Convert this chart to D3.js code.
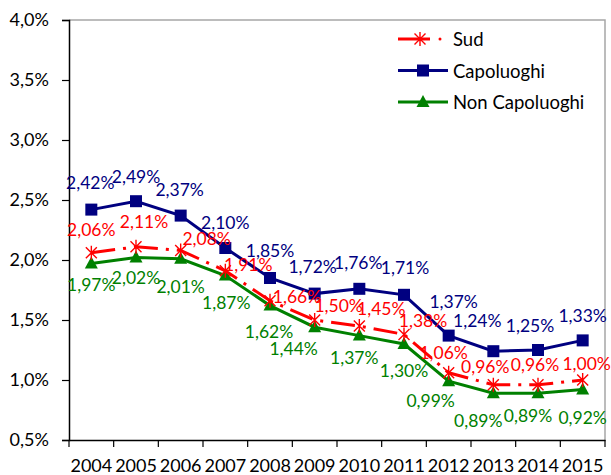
<!doctype html>
<html>
<head>
<meta charset="utf-8">
<script src="https://d3js.org/d3.v7.min.js"></script>
<style>
body { margin: 0; background: #fff; }
svg { font-family: Lato, "Open Sans", sans-serif; }
</style>
</head>
<body>
<svg id="chart" width="611" height="475"></svg>
<script>
// data
var years = ["2004","2005","2006","2007","2008","2009","2010","2011","2012","2013","2014","2015"];
var sud = [2.06, 2.11, 2.08, 1.91, 1.66, 1.50, 1.45, 1.38, 1.06, 0.96, 0.96, 1.00];
var capoluoghi = [2.42, 2.49, 2.37, 2.10, 1.85, 1.72, 1.76, 1.71, 1.37, 1.24, 1.25, 1.33];
var nonCapoluoghi = [1.97, 2.02, 2.01, 1.87, 1.62, 1.44, 1.37, 1.30, 0.99, 0.89, 0.89, 0.92];
var yTicks = [0.5, 1.0, 1.5, 2.0, 2.5, 3.0, 3.5, 4.0];

// label nudges (dx, dy)
var sudOff = [[0,-23],[8,-25],[26,-12],[23,-6],[27,-4],[24,-15],[22,-18],[19,-14],[-5,-20],[-8,-18],[-3,-20],[4,-17]];
var capOff = [[-1,-27],[0,-25],[-1,-26],[0,-26],[0,-28],[-2,-27],[-1,-26],[1,-27],[5,-34],[-16,-31],[-8,-25],[0,-25]];
var nonOff = [[0,21],[0,20],[0,28],[1,27],[-1,26],[-21,21],[-5,22],[0,26],[-18,19],[-15,27],[-10,22],[0,28]];

var svg = d3.select("#chart");
var mLeft = 69, mRight = 605, mTop = 20, mBottom = 440;

var x = d3.scaleBand().domain(years).range([mLeft, mRight]);
var y = d3.scaleLinear().domain([0.5, 4.0]).range([mBottom, mTop]);
var fmt = function(v) { return d3.format(".2f")(v).replace(".", ",") + "%"; };
var fmtTick = function(v) { return d3.format(".1f")(v).replace(".", ",") + "%"; };

// plot frame (top / right in grey)
svg.append("path")
  .attr("d", "M" + mLeft + "," + mTop + "H" + mRight + "V" + mBottom)
  .attr("fill", "none").attr("stroke", "#a6a6a6").attr("stroke-width", 1.5);

// y axis
var ya = svg.append("g").attr("transform", "translate(" + mLeft + ",0)")
  .call(d3.axisLeft(y).tickValues(yTicks).tickFormat(fmtTick).tickSize(7).tickPadding(13));
ya.select(".domain").attr("stroke", "#000").attr("stroke-width", 1.5);
ya.selectAll(".tick line").attr("stroke", "#000").attr("stroke-width", 1.2);
ya.selectAll("text").style("font-size", "18px").style("font-family", "Lato").attr("fill", "#000");

// x axis (ticks between categories)
var xa = svg.append("g").attr("transform", "translate(0," + mBottom + ")")
  .call(d3.axisBottom(x).tickSize(0).tickPadding(19));
xa.select(".domain").attr("stroke", "#000").attr("stroke-width", 1.5);
xa.selectAll("text").style("font-size", "18px").style("font-family", "Lato").attr("fill", "#000");
xa.selectAll(".sep").data(years.concat(["end"])).enter().append("line")
  .attr("x1", function(d, i) { return mLeft + i * x.bandwidth(); })
  .attr("x2", function(d, i) { return mLeft + i * x.bandwidth(); })
  .attr("y1", 0).attr("y2", 7)
  .attr("stroke", "#000").attr("stroke-width", 1.2);

var cx = function(i) { return x(years[i]) + x.bandwidth() / 2; };
var line = d3.line().x(function(d, i) { return cx(i); }).y(function(d) { return y(d); });

var series = [
  { name: "Sud", values: sud, color: "#ff0000", dash: "24,8,3,8", marker: "star", off: sudOff },
  { name: "Capoluoghi", values: capoluoghi, color: "#000080", dash: null, marker: "square", off: capOff },
  { name: "Non Capoluoghi", values: nonCapoluoghi, color: "#008000", dash: null, marker: "triangle", off: nonOff }
];

function drawMarker(g, type, color) {
  if (type === "square") {
    g.append("rect").attr("x", -6).attr("y", -6).attr("width", 12).attr("height", 12).attr("fill", color);
  } else if (type === "triangle") {
    g.append("path").attr("d", "M0,-7L6.5,5L-6.5,5Z").attr("fill", color);
  } else {
    g.append("path").attr("d", "M-5.5,-5.5L5.5,5.5M-5.5,5.5L5.5,-5.5M0,-7V7")
      .attr("stroke", color).attr("stroke-width", 1.4).attr("fill", "none");
  }
}

// draw lines: green, blue, red order so red dashes sit on top
[series[2], series[1], series[0]].forEach(function(s) {
  svg.append("path").datum(s.values)
    .attr("d", line)
    .attr("fill", "none")
    .attr("stroke", s.color)
    .attr("stroke-width", 3)
    .attr("stroke-dasharray", s.dash);
  svg.append("g").selectAll("g").data(s.values).enter().append("g")
    .attr("transform", function(d, i) { return "translate(" + cx(i) + "," + y(d) + ")"; })
    .each(function() { drawMarker(d3.select(this), s.marker, s.color); });
});

// data labels
series.forEach(function(s) {
  svg.append("g").selectAll("text").data(s.values).enter().append("text")
    .attr("x", function(d, i) { return cx(i) + s.off[i][0]; })
    .attr("y", function(d, i) { return y(d) + s.off[i][1]; })
    .attr("text-anchor", "middle")
    .attr("dominant-baseline", "central")
    .style("font-size", "17.5px")
    .attr("fill", s.color)
    .text(fmt);
});

// legend
var lg = svg.append("g");
series.forEach(function(s, i) {
  var ly = 39 + i * 31.5;
  var row = lg.append("g").attr("transform", "translate(0," + ly + ")");
  if (s.dash) {
    row.append("line").attr("x1", 398).attr("x2", 430).attr("y1", 0).attr("y2", 0)
      .attr("stroke", s.color).attr("stroke-width", 3);
    row.append("circle").attr("cx", 440).attr("cy", 0).attr("r", 1.5).attr("fill", s.color);
  } else {
    row.append("line").attr("x1", 398).attr("x2", 448).attr("y1", 0).attr("y2", 0)
      .attr("stroke", s.color).attr("stroke-width", 3);
  }
  var m = row.append("g").attr("transform", "translate(" + (s.dash ? 420 : 423) + ",0)");
  drawMarker(m, s.marker, s.color);
  row.append("text").attr("x", 453).attr("y", 0)
    .attr("dominant-baseline", "central")
    .style("font-size", "18.5px")
    .attr("fill", "#000")
    .text(s.name);
});
</script>
</body>
</html>
